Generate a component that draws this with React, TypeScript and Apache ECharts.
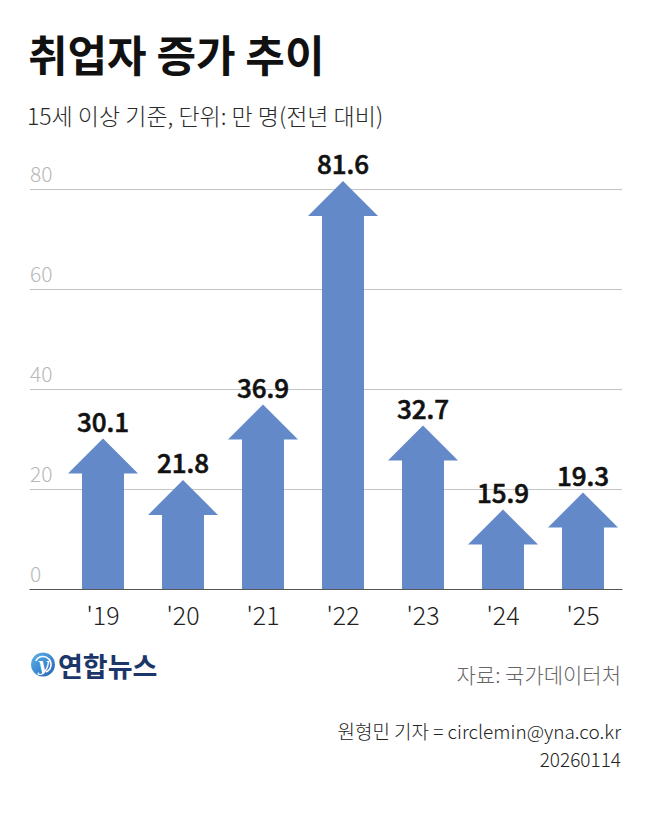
import React, { useEffect, useRef } from 'react';
import * as echarts from 'echarts';

const years = ["'19", "'20", "'21", "'22", "'23", "'24", "'25"];
const increase = [30.1, 21.8, 36.9, 81.6, 32.7, 15.9, 19.3];
const yTicks = [0, 20, 40, 60, 80];

const FONT = '"Noto Sans CJK KR", "Noto Sans", sans-serif';
const ARROW = '#6389c8';

const App: React.FC = () => {
  const chartRef = useRef<HTMLDivElement>(null);

  useEffect(() => {
    if (!chartRef.current) return;
    const chart = echarts.init(chartRef.current, undefined, { renderer: 'svg' });

    const renderArrow = (params: any, api: any) => {
      const idx = api.value(0);
      const val = api.value(1);
      const [x, yTip] = api.coord([idx, val]);
      const [, y0] = api.coord([idx, 0]);
      const shaft = 21;
      const head = 35;
      const headH = 35;
      return {
        type: 'group',
        children: [
          {
            type: 'polygon',
            shape: {
              points: [
                [x - shaft, y0],
                [x - shaft, yTip + headH],
                [x - head, yTip + headH],
                [x, yTip],
                [x + head, yTip + headH],
                [x + shaft, yTip + headH],
                [x + shaft, y0],
              ],
            },
            style: { fill: ARROW },
          },
          {
            type: 'text',
            style: {
              text: val.toFixed(1),
              x,
              y: yTip - 5,
              align: 'center',
              verticalAlign: 'bottom',
              fontSize: 26,
              fontWeight: 500,
              fontFamily: FONT,
              fill: '#111',
              stroke: '#111',
              lineWidth: 0.6,
            },
          },
        ],
      };
    };

    const option = {
      animation: false,
      grid: [
        { left: 30, right: 28, top: 189, bottom: 244 },
        { left: 63, right: 27, top: 189, bottom: 244 },
      ],
      xAxis: [
        {
          gridIndex: 0,
          type: 'value',
          min: 0,
          max: 1,
          axisLine: { show: true, onZero: false, lineStyle: { color: '#555', width: 1.2 } },
          axisTick: { show: false },
          axisLabel: { show: false },
          splitLine: { show: false },
        },
        {
          gridIndex: 1,
          type: 'category',
          data: years,
          axisLine: { show: false },
          axisTick: { show: false },
          axisLabel: {
            color: '#222',
            fontSize: 25,
            fontWeight: 300,
            fontFamily: FONT,
            margin: 12,
          },
        },
      ],
      yAxis: [
        {
          gridIndex: 0,
          type: 'value',
          min: yTicks[0],
          max: yTicks[yTicks.length - 1],
          interval: 20,
          axisLine: { show: false },
          axisTick: { show: false },
          splitLine: { lineStyle: { color: '#c4c4c4', width: 1 } },
          axisLabel: {
            inside: true,
            margin: 0,
            color: '#b8b8b8',
            fontSize: 21,
            fontWeight: 300,
            fontFamily: FONT,
            verticalAlign: 'bottom',
            padding: [0, 0, 6, 0],
          },
        },
        {
          gridIndex: 1,
          type: 'value',
          min: yTicks[0],
          max: yTicks[yTicks.length - 1],
          interval: 20,
          show: false,
          splitLine: { show: false },
        },
      ],
      series: [
        {
          type: 'custom',
          xAxisIndex: 1,
          yAxisIndex: 1,
          renderItem: renderArrow,
          encode: { x: 0, y: 1 },
          data: increase.map((v, i) => [i, v]),
          z: 5,
        },
      ],
      graphic: [
        {
          type: 'text',
          left: 28,
          top: 31,
          style: {
            text: '취업자 증가 추이',
            fontSize: 43,
            fontWeight: 'bold',
            fontFamily: FONT,
            fill: '#111',
          },
        },
        {
          type: 'text',
          left: 27,
          top: 103,
          style: {
            text: '15세 이상 기준, 단위: 만 명(전년 대비)',
            fontSize: 23,
            fontWeight: 300,
            fontFamily: FONT,
            fill: '#2a2a2a',
          },
        },
        {
          type: 'group',
          left: 31,
          top: 652,
          children: [
            {
              type: 'circle',
              shape: { cx: 12, cy: 12, r: 12 },
              style: {
                fill: new echarts.graphic.LinearGradient(0, 0, 1, 1, [
                  { offset: 0, color: '#5fb4ea' },
                  { offset: 1, color: '#1f63b6' },
                ]),
              },
            },
            {
              type: 'arc',
              shape: { cx: 12, cy: 12, r: 8, startAngle: 3.6, endAngle: 1.2 },
              style: { stroke: '#fff', lineWidth: 1.6, fill: 'none' },
            },
            {
              type: 'text',
              style: {
                text: 'y',
                x: 12,
                y: 12,
                align: 'center',
                verticalAlign: 'middle',
                fontSize: 18,
                fontStyle: 'italic',
                fontWeight: 'bold',
                fontFamily: 'DejaVu Serif, serif',
                fill: '#fff',
              },
            },
            {
              type: 'text',
              style: {
                text: '연합뉴스',
                x: 27,
                y: 13,
                verticalAlign: 'middle',
                fontSize: 27,
                fontWeight: 'bold',
                fontFamily: FONT,
                fill: '#1b3668',
              },
            },
          ],
        },
        {
          type: 'text',
          right: 29,
          top: 663,
          style: {
            text: '자료: 국가데이터처',
            fontSize: 21,
            fontWeight: 300,
            fontFamily: FONT,
            fill: '#666',
          },
        },
        {
          type: 'text',
          right: 29,
          top: 721,
          style: {
            text: '원형민 기자 = circlemin@yna.co.kr',
            fontSize: 19,
            fontWeight: 300,
            fontFamily: FONT,
            fill: '#222',
          },
        },
        {
          type: 'text',
          right: 29,
          top: 749,
          style: {
            text: '20260114',
            fontSize: 19,
            fontWeight: 300,
            fontFamily: FONT,
            fill: '#222',
          },
        },
      ],
    };

    chart.setOption(option);
    return () => {
      chart.dispose();
    };
  }, []);

  return (
    <div
      ref={chartRef}
      style={{ position: 'fixed', left: 0, top: 0, width: 650, height: 833, background: '#fff' }}
    />
  );
};

export default App;
